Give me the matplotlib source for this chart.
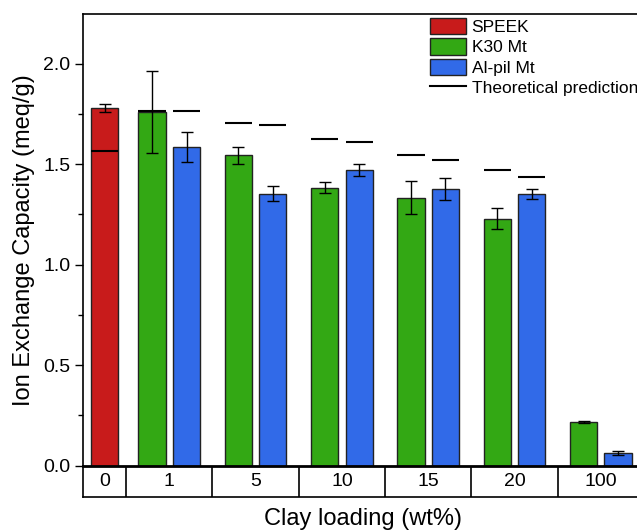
import numpy as np
import matplotlib.pyplot as plt
from matplotlib.patches import Patch
from matplotlib.lines import Line2D

plt.rcParams['font.family'] = ['Liberation Sans', 'DejaVu Sans']

# clay loading categories (wt%)
loadings = ['0', '1', '5', '10', '15', '20', '100']

# measured IEC (meq/g) and errors
speek_val = 1.78
speek_err = 0.02
k30_val = [1.76, 1.544, 1.383, 1.332, 1.229, 0.216]
k30_err = [0.205, 0.042, 0.027, 0.082, 0.051, 0.005]
alpil_val = [1.586, 1.352, 1.470, 1.377, 1.352, 0.065]
alpil_err = [0.075, 0.037, 0.031, 0.055, 0.025, 0.010]

# theoretical prediction
speek_theo = 1.565
k30_theo = [1.765, 1.703, 1.624, 1.547, 1.470]
alpil_theo = [1.765, 1.695, 1.609, 1.522, 1.438]

red = '#C81B1B'
green = '#33A814'
blue = '#316AE8'

W, H = 637, 531
fig = plt.figure(figsize=(W / 100, H / 100), dpi=100)

# main axes (right part runs off the figure like the original)
ax = fig.add_axes([83 / W, (H - 465.7) / H, 6.7 * 86.3 / W, (465.7 - 14) / H])
bw = 0.316
off = 0.2
xc = np.arange(1, 7)

ax.bar(0.25, speek_val, bw, color=red, edgecolor='#222222', lw=1, zorder=2)
ax.errorbar(0.25, speek_val, yerr=speek_err, fmt='none', ecolor='black',
            elinewidth=1, capsize=4, capthick=1, zorder=3)
ax.bar(xc - off, k30_val, bw, color=green, edgecolor='#222222', lw=1, zorder=2)
ax.errorbar(xc - off, k30_val, yerr=k30_err, fmt='none', ecolor='black',
            elinewidth=1, capsize=4, capthick=1, zorder=3)
ax.bar(xc + off, alpil_val, bw, color=blue, edgecolor='#222222', lw=1, zorder=2)
ax.errorbar(xc + off, alpil_val, yerr=alpil_err, fmt='none', ecolor='black',
            elinewidth=1, capsize=4, capthick=1, zorder=3)

# theoretical lines
ax.hlines(speek_theo, 0.25 - bw / 2, 0.25 + bw / 2, color='black', lw=1.5, zorder=4)
xt = xc[:5]
ax.hlines(k30_theo, xt - off - bw / 2, xt - off + bw / 2, color='black', lw=1.5, zorder=4)
ax.hlines(alpil_theo, xt + off - bw / 2, xt + off + bw / 2, color='black', lw=1.5, zorder=4)

ax.set_xlim(0, 6.7)
ax.set_ylim(0, 2.247)
ax.set_yticks([0, 0.5, 1.0, 1.5, 2.0])
ax.set_yticks(np.arange(0.25, 2.25, 0.5), minor=True)
ax.set_yticklabels(['0.0', '0.5', '1.0', '1.5', '2.0'])
ax.tick_params(axis='y', which='major', direction='out', length=6, width=1, labelsize=14, pad=3)
ax.tick_params(axis='y', which='minor', direction='out', length=3.5, width=1)
ax.set_xticks([])
ax.spines['right'].set_visible(False)
ax.spines['bottom'].set_linewidth(2)
ax.spines['left'].set_linewidth(1.2)
ax.spines['top'].set_linewidth(1.2)

fig.text(24 / W, (H - 240) / H, 'Ion Exchange Capacity (meq/g)', rotation=90,
         ha='center', va='center', fontsize=17)

# category table under the axis
tab = fig.add_axes([83 / W, (H - 496.7) / H, 6.7 * 86.3 / W, 31 / H])
tab.set_xlim(0, 6.7)
tab.set_ylim(0, 1)
tab.set_xticks([])
tab.set_yticks([])
tab.spines['right'].set_visible(False)
tab.spines['top'].set_visible(False)
tab.spines['left'].set_linewidth(1.2)
tab.spines['bottom'].set_linewidth(1.2)
tab.patch.set_alpha(0)
for b in np.arange(0.5, 6.5, 1.0):
    tab.axvline(b, color='black', lw=1.2)
centers = [0.25] + list(xc)
for c, lab in zip(centers, loadings):
    tab.text(c, 0.5, lab, ha='center', va='center', fontsize=14)

fig.text(363 / W, (H - 525) / H, 'Clay loading (wt%)', ha='center', va='baseline', fontsize=17)

handles = [Patch(facecolor=red, edgecolor='#222222', lw=1),
           Patch(facecolor=green, edgecolor='#222222', lw=1),
           Patch(facecolor=blue, edgecolor='#222222', lw=1),
           Line2D([0], [0], color='black', lw=1.5)]
labels = ['SPEEK', 'K30 Mt', 'Al-pil Mt', 'Theoretical prediction']
fig.legend(handles, labels, loc='upper left', bbox_to_anchor=(430 / W, (H - 18) / H),
           frameon=False, fontsize=12.5, borderpad=0, borderaxespad=0,
           handlelength=2.1, handleheight=1.05, handletextpad=0.3, labelspacing=0.2)

fig.savefig('out.png', dpi=100)
